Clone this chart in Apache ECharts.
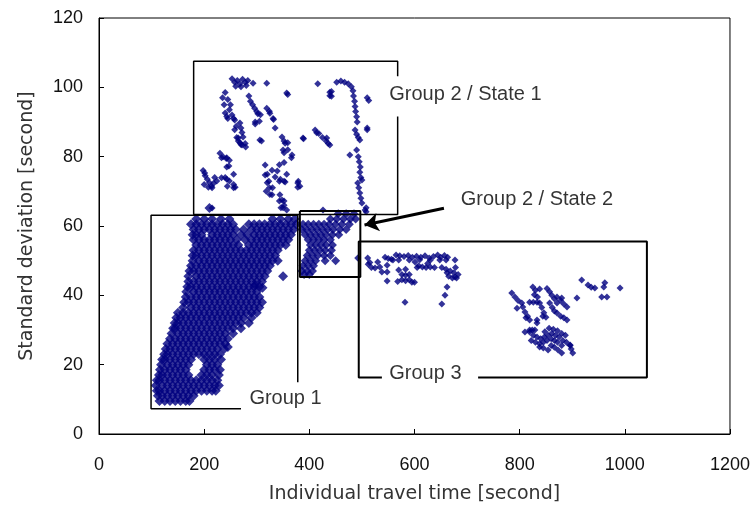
<!DOCTYPE html>
<html>
<head>
<meta charset="utf-8">
<script src="https://cdn.jsdelivr.net/npm/echarts@6/dist/echarts.min.js"></script>
<style>
  html, body { margin: 0; padding: 0; background: #fff; }
  #chart { width: 753px; height: 516px; }
</style>
</head>
<body>
<div id="chart"></div>
<script>
// axis ticks
const xTicks = [0, 200, 400, 600, 800, 1000, 1200]
const yTicks = [0, 20, 40, 60, 80, 100, 120]

// Group 1 dense cloud, read row by row: [std dev, [travel times]]
const group1Rows = [
  [62, [185, 200, 215, 232, 248, 330, 345, 360, 372]],
  [60.5, [175, 185, 195, 205, 215, 225, 235, 245, 255, 285, 295, 305, 315, 325, 335, 345, 355, 365, 375]],
  [59, [180, 190, 200, 210, 220, 230, 240, 250, 260, 275, 290, 300, 310, 320, 330, 340, 350, 360, 370]],
  [57.5, [178, 185, 195, 215, 225, 235, 245, 255, 270, 282, 295, 305, 315, 325, 335, 345, 355, 365]],
  [56, [180, 190, 200, 210, 220, 230, 240, 250, 262, 278, 290, 300, 310, 320, 330, 340, 350, 360]],
  [54.5, [185, 195, 205, 215, 225, 235, 245, 255, 265, 285, 295, 305, 315, 325, 335, 345, 355]],
  [53, [180, 190, 200, 210, 220, 230, 240, 250, 260, 270, 280, 290, 300, 310, 320, 330, 340]],
  [51.5, [178, 185, 195, 205, 215, 225, 235, 245, 255, 265, 275, 285, 295, 305, 315, 325, 335]],
  [50, [178, 190, 200, 210, 220, 230, 240, 250, 260, 270, 280, 290, 300, 310, 320, 330, 340]],
  [48.5, [175, 185, 195, 205, 215, 225, 235, 245, 255, 265, 275, 285, 295, 305, 315, 325]],
  [47, [172, 180, 190, 200, 210, 220, 230, 240, 250, 260, 270, 280, 290, 300, 310, 320]],
  [45.5, [170, 185, 195, 205, 215, 225, 235, 245, 255, 265, 275, 285, 295, 305, 315, 350]],
  [44, [170, 180, 190, 200, 210, 220, 230, 240, 250, 260, 270, 280, 290, 300, 310]],
  [42.5, [168, 175, 185, 195, 205, 215, 225, 235, 245, 255, 265, 275, 285, 295, 305]],
  [41, [166, 180, 190, 200, 210, 220, 230, 240, 250, 260, 270, 280, 290, 300]],
  [39.5, [165, 175, 185, 195, 205, 215, 225, 235, 245, 255, 265, 275, 285, 295, 305]],
  [38, [162, 170, 180, 190, 200, 210, 220, 230, 240, 250, 260, 270, 280, 290, 300, 310]],
  [36.5, [160, 175, 185, 195, 205, 215, 225, 235, 245, 255, 265, 275, 285, 295, 305]],
  [35, [150, 160, 170, 180, 190, 200, 210, 220, 230, 240, 250, 260, 270, 280, 290, 300]],
  [33.5, [147, 155, 165, 175, 185, 195, 205, 215, 225, 235, 245, 255, 265, 275, 290]],
  [32, [144, 150, 160, 170, 180, 190, 200, 210, 220, 230, 240, 250, 260, 270, 285]],
  [30.5, [141, 145, 155, 165, 175, 185, 195, 205, 215, 225, 235, 245, 255, 270]],
  [29, [138, 150, 160, 170, 180, 190, 200, 210, 220, 230, 240, 255]],
  [27.5, [135, 145, 155, 165, 175, 185, 195, 205, 215, 225, 235, 245]],
  [26, [130, 140, 150, 160, 170, 180, 190, 200, 210, 220, 230, 240]],
  [24.5, [127, 135, 145, 155, 165, 175, 185, 195, 205, 215, 225, 238]],
  [23, [124, 130, 140, 150, 160, 170, 180, 190, 200, 210, 220, 230]],
  [21.5, [120, 125, 135, 145, 155, 165, 175, 200, 210, 220, 232]],
  [20, [118, 130, 140, 150, 160, 170, 205, 215, 225]],
  [18.5, [116, 125, 135, 145, 155, 165, 200, 210, 220, 230]],
  [17, [114, 120, 130, 140, 150, 160, 170, 195, 205, 215, 228]],
  [15.5, [110, 115, 125, 135, 145, 155, 165, 175, 185, 195, 205, 215, 225]],
  [14, [108, 120, 130, 140, 150, 160, 170, 180, 190, 200, 210, 220, 228]],
  [12.5, [110, 115, 125, 135, 145, 155, 165, 175, 185, 195, 205, 215, 222]],
  [11, [112, 120, 130, 140, 150, 160, 170, 180]],
  [9.5, [115, 125, 135, 145, 155, 165, 172]]
]
const group1Extra = [[210, 65.2], [311, 42.2], [297, 43], [245, 25.1]]

// Group 2 / State 2 cloud
const state2Rows = [
  [63.5, [455, 470, 485]],
  [62, [440, 452, 465, 478, 488]],
  [60.5, [388, 398, 408, 418, 428, 438, 450, 462, 476]],
  [59, [386, 395, 405, 415, 425, 435, 445, 458, 470]],
  [57.5, [392, 402, 412, 422, 432, 444, 456]],
  [56, [398, 408, 418, 428, 440]],
  [54.5, [402, 412, 422, 432, 444]],
  [53, [400, 410, 420, 430, 442]],
  [51.5, [396, 406, 416, 428, 440]],
  [50, [392, 402, 412, 430, 450]],
  [48.5, [388, 398, 408]],
  [47, [386, 396, 406]],
  [46, [390, 400]]
]

// Group 2 / State 1 scattered points
const state1Points = [
  [253, 102.5], [258, 101.5], [263, 102], [268, 101], [273, 102.3], [278, 101.5], [283, 102], [260, 100.3],
  [270, 100.2], [280, 100.5], [293, 101.2], [319, 101.2], [357, 98.4], [359, 97.9],
  [235, 97], [240, 98.5], [245, 96.5], [250, 95], [238, 95], [248, 93.5], [240, 92.6], [245, 91], [253, 92],
  [258, 90.6], [243, 91.6], [256, 91], [261, 88.8], [258, 87.8],
  [285, 97.5], [288, 96], [292, 95], [296, 94], [300, 93], [302, 92.4], [297, 90], [307, 92.1], [305, 90.2],
  [297, 89.4], [309, 84.5], [319, 94], [325, 92.5], [331, 91], [335, 88.3], [332, 90.7], [324, 93.1],
  [268, 89.7], [270, 88.3], [272, 87], [274, 85.7], [262, 85.5], [265, 84.5], [268, 84], [272, 83.4],
  [278, 83.8], [265, 85.4], [270, 83.5], [279, 82.8],
  [306, 84.8], [348, 85.7], [352, 84.5], [354, 83.9], [350, 81.9], [367, 80.5],
  [230, 81], [236, 80], [242, 79.5], [248, 79], [243, 77], [233, 79.7], [243, 79.7], [247, 77.3],
  [198, 76], [202, 74.5], [206, 73.5], [210, 72.5], [214, 71.5], [220, 74], [224, 73], [200, 72],
  [208, 71.2], [218, 72.3], [201, 75.3], [215, 71], [233, 73.9],
  [240, 74], [248, 73], [256, 72], [259, 71.2], [244, 71.5], [256, 74.9], [256, 71], [243, 73.5],
  [316, 77.6], [329, 76.1], [316, 74.7], [320, 72.5], [324, 71], [329, 69], [318, 70], [320, 74.9],
  [323, 72.9], [330, 71], [325, 69.1],
  [335, 74.1], [345, 73.5], [354, 72.7], [339, 75.9], [357, 74.9], [343, 72.9], [352, 72.9],
  [343, 77.7], [352, 78.3], [352, 81.1], [359, 84], [359, 82], [366, 79.7],
  [344, 69], [348, 67.5], [352, 66], [357, 64.6], [350, 65.3], [343, 67.2], [352, 67.2], [346, 65.3],
  [379, 72.9], [382, 71.5], [378, 72.4], [378, 71.2], [215, 65.2],
  [416, 101], [439, 98.6], [439, 97.6], [442, 98.8], [442, 97.4],
  [452, 101.5], [460, 101.8], [467, 101.5], [474, 101], [480, 100.2], [483, 99],
  [484, 97.5], [486, 96], [487, 94.5], [488, 93], [490, 91.5], [491, 90], [510, 97], [513, 96.2],
  [487, 87.7], [490, 86.5], [493, 85.5], [496, 84.8], [510, 88.3], [510, 87.8],
  [490, 81.9], [493, 80], [495, 78.5], [497, 77], [496, 75.5], [498, 74], [500, 73.3], [477, 80.5],
  [492, 72.4], [494, 71], [496, 69.5], [498, 68], [500, 66.6], [506, 64.6], [508, 65.3], [508, 64.1],
  [411, 87.7], [418, 86.7], [425, 85.5], [432, 84.5], [436, 83.8], [439, 83.4], [388, 85.4],
  [389, 85.2], [414, 86.9], [433, 85.4], [426, 64.6]
]

// Group 3 points
const group3Points = [
  [492, 50.8], [511, 50.8], [515, 49.5], [518, 48], [525, 47.9], [512, 49], [530, 49.6], [534, 48.2],
  [538, 46.7], [544, 51], [550, 50.6], [556, 50.4], [559, 50.2], [548, 48.7], [548, 46.7], [548, 44.1],
  [565, 51.6], [572, 51.4], [580, 51.2], [588, 51.5], [596, 51], [604, 51.3], [612, 51], [620, 51.4],
  [628, 50.8], [636, 51.2], [570, 50.2], [590, 50.2], [610, 50.3], [630, 50.1],
  [601, 49.6], [608, 48.5], [615, 48.2], [622, 48], [630, 48.2], [638, 48], [605, 48], [625, 49.2],
  [570, 47.3], [576, 46], [583, 47.5], [583, 45.8], [590, 46], [583, 44.2], [576, 44.5], [590, 44.5],
  [595, 43.8], [568, 44], [600, 43.8], [582, 38],
  [644, 51.6], [650, 51], [657, 51.5], [663, 51], [648, 50.2], [660, 50.2],
  [652, 48], [660, 47.5], [668, 47], [675, 46.5], [683, 46], [665, 45.5], [672, 45], [678, 48],
  [662, 46.5], [680, 45], [677, 50.2], [677, 45.3], [662, 42.4], [658, 40], [652, 37.5],
  [785, 40.7], [791, 39.5], [797, 38.5], [804, 37.8], [795, 36.3], [806, 36.6], [810, 35.2], [815, 34],
  [819, 32.9], [812, 33.5], [825, 42.4], [830, 41.5], [838, 41.8], [834, 39.5], [828, 40.2], [819, 38],
  [826, 38], [833, 38], [838, 37.8], [842, 36.5], [846, 35], [850, 33.7], [844, 34], [833, 32.9],
  [833, 32], [819, 30], [824, 30], [829, 30], [810, 29.4],
  [852, 42], [857, 41], [861, 40], [866, 39], [871, 37.8], [857, 37.8], [862, 36.5], [866, 35.5],
  [871, 34.9], [871, 39.5], [878, 38.5], [884, 37.5], [890, 36.6], [880, 39.2], [878, 34], [884, 33.5],
  [890, 32.9], [909, 39.2], [918, 44.4], [930, 43], [936, 42.3], [943, 42.1], [962, 43.6], [960, 42.4],
  [956, 39.5], [966, 39.5], [991, 42.1],
  [819, 29.4], [826, 28.5], [833, 28], [840, 27.5], [847, 28], [854, 28.5], [861, 29], [868, 28.5],
  [875, 28], [882, 27], [889, 26.5], [896, 25.5], [822, 27], [830, 26.5], [838, 26], [845, 26.5],
  [852, 27], [860, 27.5], [866, 27], [872, 26.5], [880, 25.5], [838, 25.1], [845, 24.8], [854, 24.2],
  [873, 24.2], [880, 23.4], [896, 25.7], [898, 24.5], [901, 23.4], [860, 25.5], [866, 25], [848, 29.5],
  [856, 30.5], [864, 30.2], [872, 29.8], [880, 29], [887, 28.5]
]

// annotation box outlines (data coordinates, open where labels sit)
const boxState1 = [[568, 103.2], [568, 107.5], [180, 107.5], [180, 63.3], [568, 63.3], [568, 91.6]]
const boxGroup1 = [[270, 7.3], [99, 7.3], [99, 63.1], [378, 63.1], [378, 14.9]]
const boxState2 = [[382, 64.3], [497, 64.3], [497, 45.3], [382, 45.3], [382, 64.3]]
const boxGroup3 = [[538, 16.3], [494, 16.3], [494, 55.5], [1042, 55.5], [1042, 16.3], [721, 16.3]]
const arrowFrom = [656, 65.1]
const arrowTo = [505, 60.3]

const noteText = ['Group 2 / State 1', 'Group 2 / State 2', 'Group 3', 'Group 1']
const noteX = [552, 688, 552, 286]
const noteY = [97.9, 67.7, 17.5, 10.3]

const rowsToPoints = rows => rows.flatMap(([y, xs]) => xs.map(x => [x, y]))

const chart = echarts.init(document.getElementById('chart'))

const boxSeries = (data, width) => ({
  type: 'line',
  data: data,
  symbol: 'none',
  silent: true,
  z: 5,
  lineStyle: { color: '#000', width: width }
})

const option = {
  animation: false,
  grid: {
    left: 99, right: 23, top: 18, bottom: 82,
    show: true, borderColor: '#000', borderWidth: 1, backgroundColor: 'transparent'
  },
  xAxis: {
    type: 'value',
    min: xTicks[0], max: xTicks[xTicks.length - 1], interval: 200,
    name: 'Individual travel time [second]',
    nameLocation: 'middle',
    nameGap: 51,
    nameTextStyle: { fontFamily: 'DejaVu Sans', fontSize: 19, color: '#333' },
    axisLine: { lineStyle: { color: '#000', width: 1 } },
    axisTick: { inside: true, length: 5, lineStyle: { color: '#000' } },
    axisLabel: { fontFamily: 'Liberation Sans', fontSize: 18, color: '#111', margin: 22, formatter: v => String(v) },
    splitLine: { show: false }
  },
  yAxis: {
    type: 'value',
    min: yTicks[0], max: yTicks[yTicks.length - 1], interval: 20,
    name: 'Standard deviation [second]',
    nameLocation: 'middle',
    nameGap: 62,
    nameTextStyle: { fontFamily: 'DejaVu Sans', fontSize: 19, color: '#333' },
    axisLine: { lineStyle: { color: '#000', width: 1 } },
    axisTick: { inside: true, length: 5, lineStyle: { color: '#000' } },
    axisLabel: { fontFamily: 'Liberation Sans', fontSize: 18, color: '#111', margin: 16 },
    splitLine: { show: false }
  },
  series: [
    {
      type: 'scatter',
      data: rowsToPoints(group1Rows).concat(group1Extra),
      symbol: 'diamond', symbolSize: 10,
      itemStyle: { color: '#000080' }
    },
    {
      type: 'scatter',
      data: rowsToPoints(state2Rows),
      symbol: 'diamond', symbolSize: 9,
      itemStyle: { color: '#000080' }
    },
    {
      type: 'scatter',
      data: state1Points.concat(group3Points),
      symbol: 'diamond', symbolSize: 7,
      itemStyle: { color: '#000080' }
    },
    boxSeries(boxState1, 1.5),
    boxSeries(boxGroup1, 1.5),
    boxSeries(boxState2, 2),
    boxSeries(boxGroup3, 2),
    {
      type: 'scatter',
      data: noteText.map((t, i) => ({ name: t, value: [noteX[i], noteY[i]] })),
      symbolSize: 0,
      silent: true,
      z: 6,
      label: {
        show: true, position: 'right', distance: 0,
        formatter: p => p.name,
        fontFamily: 'Liberation Sans', fontSize: 20, color: '#000'
      },
      markLine: {
        silent: true,
        symbol: ['none', 'arrow'],
        symbolSize: 14,
        label: { show: false },
        lineStyle: { color: '#000', width: 3, type: 'solid' },
        data: [[{ coord: arrowFrom }, { coord: arrowTo }]]
      }
    }
  ]
}

chart.setOption(option)
</script>
</body>
</html>
